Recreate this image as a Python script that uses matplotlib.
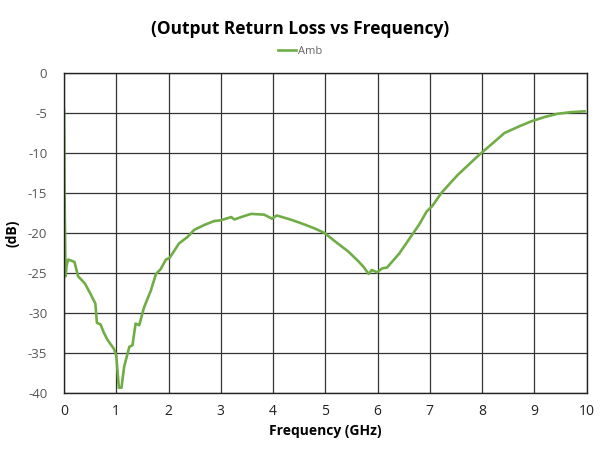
import matplotlib
matplotlib.use("Agg")
import matplotlib.pyplot as plt

title = "(Output Return Loss vs Frequency)"
series_name = "Amb"
x_label = "Frequency (GHz)"
y_label = "(dB)"

freq_ghz = [0.0, 0.01, 0.03, 0.05, 0.08, 0.12, 0.2, 0.27, 0.33, 0.4, 0.5, 0.6, 0.63,
            0.7, 0.76, 0.83, 0.96, 1.0, 1.05, 1.1, 1.15, 1.25, 1.31, 1.37, 1.44,
            1.53, 1.66, 1.76, 1.85, 1.95, 2.02, 2.1, 2.2, 2.36, 2.49, 2.68, 2.87,
            3.0, 3.2, 3.26, 3.39, 3.58, 3.83, 3.98, 4.07, 4.33, 4.53, 4.79, 4.99,
            5.18, 5.44, 5.63, 5.73, 5.83, 5.89, 5.99, 6.09, 6.18, 6.41, 6.6, 6.79,
            6.94, 7.05, 7.22, 7.44, 7.54, 7.95, 8.2, 8.43, 8.7, 8.94, 9.2, 9.45,
            9.7, 9.96]
loss_db = [-4.6, -15.0, -25.4, -24.0, -23.3, -23.4, -23.6, -25.4, -25.8, -26.3,
           -27.5, -28.8, -31.2, -31.4, -32.4, -33.3, -34.5, -35.3, -39.3, -39.3,
           -36.7, -34.2, -34.0, -31.3, -31.5, -29.3, -27.2, -25.1, -24.5, -23.3,
           -23.1, -22.3, -21.3, -20.5, -19.6, -19.0, -18.5, -18.4, -18.0, -18.3,
           -18.0, -17.6, -17.7, -18.2, -17.8, -18.3, -18.75, -19.4, -20.0, -21.0,
           -22.3, -23.5, -24.2, -25.1, -24.6, -24.9, -24.4, -24.3, -22.6, -20.8,
           -19.0, -17.3, -16.6, -15.0, -13.4, -12.7, -10.2, -8.8, -7.5, -6.7, -6.05,
           -5.5, -5.1, -4.9, -4.8]

x_ticks = [0, 1, 2, 3, 4, 5, 6, 7, 8, 9, 10]
y_ticks = [0, -5, -10, -15, -20, -25, -30, -35, -40]

plt.rcParams['font.family'] = ['Open Sans', 'DejaVu Sans']
plt.rcParams['axes.unicode_minus'] = False

fig = plt.figure(figsize=(6.01, 4.5), dpi=100)
ax = fig.add_axes([0.1065, 0.126, 0.8695, 0.712])

ax.plot(freq_ghz, loss_db, color="#70AD47", linewidth=1.9, label=series_name,
        solid_joinstyle="round")

ax.set_xlim(0, 10)
ax.set_ylim(-40, 0)
ax.set_xticks(x_ticks)
ax.set_yticks(y_ticks)
ax.tick_params(axis='x', length=0, pad=8, labelsize=10, labelcolor="#222222")
ax.tick_params(axis='y', length=0, pad=12, labelsize=9.5, labelcolor="#555555")
ax.grid(True, color="#333333", linewidth=0.9)
ax.set_axisbelow(True)
for s in ax.spines.values():
    s.set_color("#222222")
    s.set_linewidth(1.0)

ax.set_xlabel(x_label, fontsize=10, fontweight="bold", labelpad=3)
ax.set_ylabel(y_label, fontsize=10, fontweight="bold", labelpad=6)

fig.text(0.5, 0.935, title, ha="center", va="center", fontsize=12.5, fontweight="bold")
fig.legend(loc="center", bbox_to_anchor=(0.5, 0.885), frameon=False, fontsize=8,
           handlelength=1.6, handletextpad=0.2, labelcolor="#666666")

fig.savefig("out.png", dpi=100)
